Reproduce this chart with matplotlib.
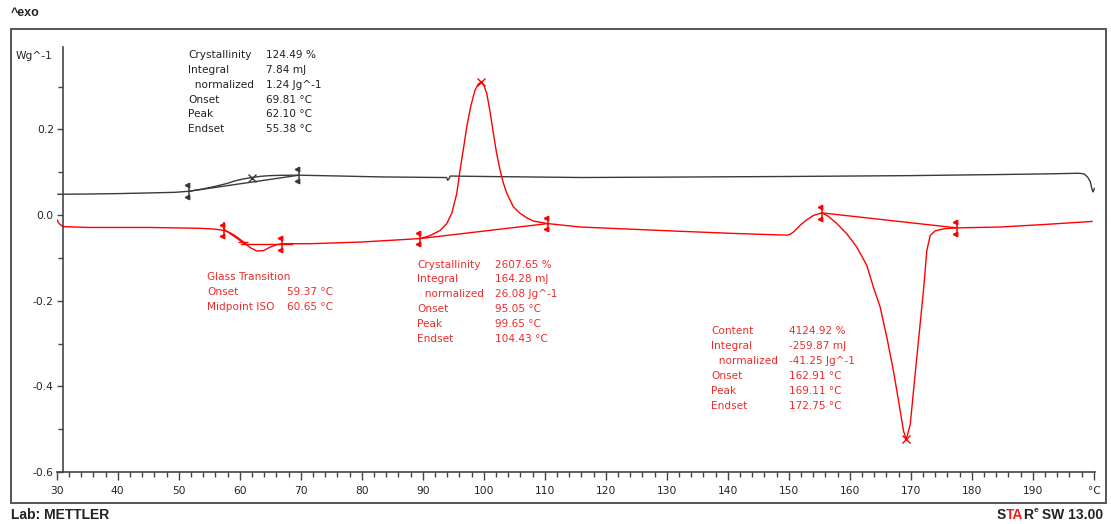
import matplotlib
matplotlib.use("Agg")
import matplotlib.pyplot as plt
from matplotlib.patches import Rectangle
from matplotlib.ticker import MultipleLocator, FixedLocator, FuncFormatter
from matplotlib.transforms import ScaledTranslation

W, H = 1111, 524

# --- curves (temperature in degC, heat flow in W/g) ---
black_t = [30.2, 35, 40, 45, 49.4, 51.7, 54, 56, 58, 59.2, 60.5, 62.0, 63.5, 65, 67, 69.7,
           75, 83, 90, 93.9, 94.1, 94.3, 94.5, 100, 116, 130, 150, 170, 185, 192,
           197.5, 198.4, 199.0, 199.4, 199.7, 199.85, 200.1]
black_v = [0.0485, 0.049, 0.050, 0.0515, 0.053, 0.0555, 0.061, 0.067, 0.074, 0.0797, 0.084, 0.0876,
           0.0905, 0.092, 0.0928, 0.093, 0.0915, 0.089, 0.088, 0.0875, 0.081, 0.085, 0.091, 0.090,
           0.0876, 0.0885, 0.090, 0.092, 0.0946, 0.096, 0.0975, 0.096, 0.088, 0.078, 0.060,
           0.054, 0.062]

red_t = [30.0, 30.4, 31.0, 35, 45, 53.5, 56, 57.4, 58.2, 59.0, 59.8, 60.6, 61.7, 62.8, 63.9,
         65.0, 66.1, 66.9, 71.5, 80, 86, 89.55, 91.2, 92.84, 93.93, 94.75, 95.57, 96.11, 96.7,
         97.21, 97.9, 98.57, 99.1, 99.56, 100.0, 100.49, 101.03, 101.57, 102.1, 102.67, 103.2,
         103.77, 104.85, 105.95, 107.0, 108.08, 110.49, 115.78, 124, 132.2, 141, 149.67, 150.2,
         150.75, 151.85, 152.95, 154.03, 155.41, 156.49, 157.87, 159.51, 161.15, 162.79, 163.87,
         164.97, 166.07, 167.15, 168.25, 168.79, 169.25, 169.9, 170.43, 171.25, 172.07, 172.62,
         173.16, 173.98, 175.5, 177.54, 184.64, 192, 199.7]
red_v = [-0.010, -0.020, -0.027, -0.029, -0.029, -0.031, -0.033, -0.036, -0.040, -0.046, -0.054,
         -0.063, -0.076, -0.084, -0.083, -0.075, -0.069, -0.067, -0.067, -0.063, -0.058, -0.055,
         -0.048, -0.036, -0.020, 0.004, 0.050, 0.105, 0.158, 0.206, 0.256, 0.292, 0.306, 0.310,
         0.303, 0.284, 0.241, 0.191, 0.144, 0.105, 0.075, 0.051, 0.019, 0.004, -0.006, -0.014,
         -0.020, -0.028, -0.033, -0.038, -0.043, -0.047, -0.045, -0.040, -0.024, -0.011, -0.001,
         0.005, -0.003, -0.020, -0.044, -0.075, -0.118, -0.169, -0.215, -0.286, -0.364, -0.457,
         -0.504, -0.524, -0.489, -0.411, -0.293, -0.176, -0.083, -0.048, -0.037, -0.032, -0.030,
         -0.028, -0.022, -0.015]

# evaluation limits (flags), peaks and baselines
black_lim_t = [51.7, 69.7]
black_lim_v = [0.0555, 0.093]
black_peak_t = [61.97]
black_peak_v = [0.0876]

red_lim_t = [57.4, 66.9, 89.55, 110.49, 155.41, 177.54]
red_lim_v = [-0.036, -0.067, -0.055, -0.020, 0.005, -0.030]
red_peak_t = [99.56, 169.25]
red_peak_v = [0.310, -0.524]
red_base_pairs = [(2, 3), (4, 5)]

glass_tangent_t = [57.4, 61.0]
glass_tangent_v = [-0.033, -0.069]
glass_base_t = [60.2, 68.5]
glass_base_v = [-0.067, -0.067]
glass_mid_t = [60.6]
glass_mid_v = [-0.063]

x_ticks = list(range(30, 201, 10))
x_labels = [str(t) for t in range(30, 200, 10)] + ["°C"]
y_major = [-0.6, -0.4, -0.2, 0.0, 0.2]
y_minor = [-0.5, -0.3, -0.1, 0.1, 0.3]

black_rows = [("Crystallinity", "124.49 %"), ("Integral", "7.84 mJ"),
              ("  normalized", "1.24 Jg^-1"), ("Onset", "69.81 °C"),
              ("Peak", "62.10 °C"), ("Endset", "55.38 °C")]
glass_rows = [("Glass Transition", ""), ("Onset", "59.37 °C"), ("Midpoint ISO", "60.65 °C")]
cryst_rows = [("Crystallinity", "2607.65 %"), ("Integral", "164.28 mJ"),
              ("  normalized", "26.08 Jg^-1"), ("Onset", "95.05 °C"),
              ("Peak", "99.65 °C"), ("Endset", "104.43 °C")]
melt_rows = [("Content", "4124.92 %"), ("Integral", "-259.87 mJ"),
             ("  normalized", "-41.25 Jg^-1"), ("Onset", "162.91 °C"),
             ("Peak", "169.11 °C"), ("Endset", "172.75 °C")]

BLACK = "#3a3a3a"
RED = "#ff0000"
RED_TXT = "#f22a2a"
AXC = "#444444"

plt.rcParams["font.family"] = ["DejaVu Sans"]
plt.rcParams["axes.unicode_minus"] = False

fig = plt.figure(figsize=(W / 100, H / 100), dpi=100)
ax = fig.add_axes([56.7 / W, 52 / H, (1094.5 - 56.7) / W, (472 - 46.7) / H])
ax.set_xlim(30, 200.1)
ax.set_ylim(-0.6, 0.393)
ax.patch.set_alpha(0)

ax.plot(black_t, black_v, color=BLACK, lw=1.0)
ax.plot(red_t, red_v, color=RED, lw=1.0)

# baselines
ax.plot(black_lim_t, black_lim_v, color=BLACK, lw=1.0)
for i, j in red_base_pairs:
    ax.plot([red_lim_t[i], red_lim_t[j]], [red_lim_v[i], red_lim_v[j]], color=RED, lw=1.0)
ax.plot(glass_tangent_t, glass_tangent_v, color=RED, lw=1.0)
ax.plot(glass_base_t, glass_base_v, color=RED, lw=1.0)
ax.plot(glass_mid_t, glass_mid_v, ls="none", marker="_", ms=7, mew=1.0, color=RED)


def flags(ts, vs, color):
    ax.plot(ts, vs, ls="none", marker="|", ms=11, mew=1.1, color=color)
    up = ax.transData + ScaledTranslation(-1.4 / 72, 4.2 / 72, fig.dpi_scale_trans)
    dn = ax.transData + ScaledTranslation(-1.4 / 72, -4.2 / 72, fig.dpi_scale_trans)
    ax.plot(ts, vs, ls="none", marker="<", ms=3.2, color=color, transform=up)
    ax.plot(ts, vs, ls="none", marker="<", ms=3.2, color=color, transform=dn)


flags(black_lim_t, black_lim_v, BLACK)
flags(red_lim_t, red_lim_v, RED)
ax.plot(black_peak_t, black_peak_v, ls="none", marker="x", ms=6, mew=1.0, color=BLACK)
ax.plot(red_peak_t, red_peak_v, ls="none", marker="x", ms=6, mew=1.0, color=RED)

# axes styling
for s in ("top", "right"):
    ax.spines[s].set_visible(False)
ax.spines["left"].set_position(("data", 31))
ax.spines["left"].set_bounds(-0.6, 0.393)
for s in ("left", "bottom"):
    ax.spines[s].set_color(AXC)
    ax.spines[s].set_linewidth(1.2)

ax.xaxis.set_major_locator(FixedLocator(x_ticks))
ax.xaxis.set_major_formatter(FuncFormatter(lambda v, p: x_labels[x_ticks.index(int(round(v)))]))
ax.xaxis.set_minor_locator(MultipleLocator(2))
ax.yaxis.set_major_locator(FixedLocator(y_major))
ax.yaxis.set_major_formatter(FuncFormatter(lambda v, p: f"{v:.1f}".replace("-0.0", "0.0")))
ax.yaxis.set_minor_locator(FixedLocator(y_minor))
ax.tick_params(axis="x", which="major", direction="out", length=6, width=1.0, pad=4,
               colors=AXC, labelcolor="#222222", labelsize=7.7)
ax.tick_params(axis="x", which="minor", direction="out", length=3.5, width=1.0, colors=AXC)
ax.tick_params(axis="y", which="major", direction="out", length=4.5, width=1.0, pad=2,
               colors=AXC, labelcolor="#222222", labelsize=7.7)
ax.tick_params(axis="y", which="minor", direction="out", length=3.5, width=1.0, colors=AXC)


def fx(x):
    return x / W


def fy(y):
    return 1 - y / H


def block(x_lab, x_val, y_top, rows, color, step=14.85):
    for k, (lab, val) in enumerate(rows):
        y = y_top + k * step
        fig.text(fx(x_lab), fy(y), lab, color=color, fontsize=7.6, va="center", ha="left")
        if val:
            fig.text(fx(x_val), fy(y), val, color=color, fontsize=7.6, va="center", ha="left")


block(188, 266, 55, black_rows, "#222222")
block(207, 287, 277, glass_rows, RED_TXT)
block(417.5, 495, 264.5, cryst_rows, RED_TXT)
block(711.5, 789, 331.5, melt_rows, RED_TXT)

fig.text(fx(53), fy(56), "Wg^-1", fontsize=7.7, color="#222222", ha="right", va="center")

# frame and captions
fig.add_artist(Rectangle((fx(11), fy(503.3)), (1106 - 11) / W, (503.3 - 29.3) / H,
                         transform=fig.transFigure, fill=False, edgecolor="#555555", lw=1.4))
fig.text(fx(11), fy(13), "^exo", fontsize=9, fontweight="bold", family="Liberation Sans",
         color="#222222", ha="left", va="center")
fig.text(fx(11), fy(515), "Lab: METTLER", fontsize=10, fontweight="bold",
         family="Liberation Sans", color="#222222", ha="left", va="center")

# STARe SW 13.00 logo, built from right to left
renderer = fig.canvas.get_renderer()
pieces = [(" SW 13.00", "#222222", 10, 0), ("e", "#222222", 6, 4), ("R", "#222222", 10, 0),
          ("TA", "#e8231f", 10, 0), ("S", "#222222", 10, 0)]
x_right = 1103
for txt, col, size, rise in pieces:
    t = fig.text(fx(x_right), fy(515 - rise), txt, fontsize=size, fontweight="bold",
                 family="Liberation Sans", color=col, ha="right", va="center")
    bb = t.get_window_extent(renderer)
    x_right -= bb.width

fig.savefig("out.png", dpi=100)
